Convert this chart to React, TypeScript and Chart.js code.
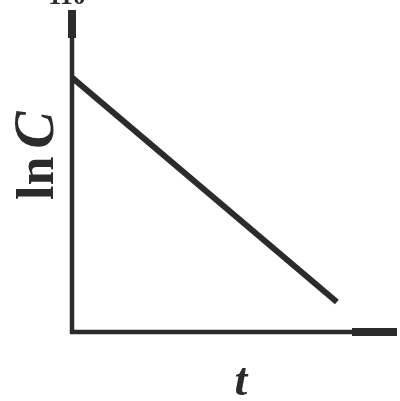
import React, { useEffect, useRef } from "react";
import { Chart, registerables } from "chart.js";

Chart.register(...registerables);

// First-order kinetics: ln C falls linearly with time t
const timeValues = [0, 8.15];
const lnCValues = [7.9, 0.93];
const axisMax = 10;

const INK = "#2b2b2b";

const axesPlugin = {
  id: "sketchAxes",
  beforeDatasetsDraw(chart: any) {
    const { ctx, scales } = chart;
    const x = scales.x;
    const y = scales.y;
    const x0 = x.getPixelForValue(0);
    const x1 = x.getPixelForValue(axisMax);
    const y0 = y.getPixelForValue(0);
    const y1 = y.getPixelForValue(axisMax);
    ctx.save();
    ctx.strokeStyle = INK;
    ctx.lineCap = "butt";
    // axes
    ctx.lineWidth = 4.5;
    ctx.beginPath();
    ctx.moveTo(x0, y1);
    ctx.lineTo(x0, y0);
    ctx.lineTo(x1, y0);
    ctx.stroke();
    // arrow ends (thickened tips)
    ctx.lineWidth = 8;
    ctx.beginPath();
    ctx.moveTo(x0, y1);
    ctx.lineTo(x0, y1 + 28);
    ctx.stroke();
    ctx.beginPath();
    ctx.moveTo(x1 - 45, y0);
    ctx.lineTo(x1, y0);
    ctx.stroke();
    ctx.restore();
  },
  afterDraw(chart: any) {
    const { ctx } = chart;
    ctx.save();
    ctx.fillStyle = INK;
    // y-axis title, rotated
    ctx.translate(53, 200);
    ctx.rotate(-Math.PI / 2);
    ctx.textBaseline = "alphabetic";
    ctx.textAlign = "left";
    ctx.font = "bold 52px 'Liberation Serif', serif";
    ctx.fillText("ln", 0, 0);
    const w = ctx.measureText("ln").width;
    ctx.font = "bold italic 56px 'Liberation Serif', serif";
    ctx.fillText("C", w + 8, 0);
    ctx.restore();

    ctx.save();
    ctx.fillStyle = INK;
    ctx.textAlign = "center";
    ctx.textBaseline = "alphabetic";
    ctx.font = "bold italic 46px 'Liberation Serif', serif";
    ctx.fillText("t", 241, 395);
    ctx.font = "bold 26px 'Liberation Serif', serif";
    ctx.fillText("110", 67, 4);
    ctx.restore();
  },
};

export default function App() {
  const ref = useRef<HTMLCanvasElement | null>(null);

  useEffect(() => {
    if (!ref.current) return;
    const chart = new Chart(ref.current, {
      type: "line",
      data: {
        datasets: [
          {
            data: timeValues.map((t, i) => ({ x: t, y: lnCValues[i] })),
            borderColor: INK,
            borderWidth: 6,
            pointRadius: 0,
            tension: 0,
            borderCapStyle: "butt",
          },
        ],
      },
      options: {
        responsive: false,
        animation: false,
        layout: { padding: { left: 72, top: 10, right: 3, bottom: 69 } },
        plugins: { legend: { display: false }, tooltip: { enabled: false } },
        scales: {
          x: { type: "linear", min: 0, max: axisMax, display: false },
          y: { type: "linear", min: 0, max: axisMax, display: false },
        },
      },
      plugins: [axesPlugin],
    });
    return () => chart.destroy();
  }, []);

  return (
    <div style={{ position: "fixed", left: 0, top: 0, width: 400, height: 401, background: "#fff" }}>
      <canvas ref={ref} width={400} height={401} />
    </div>
  );
}
